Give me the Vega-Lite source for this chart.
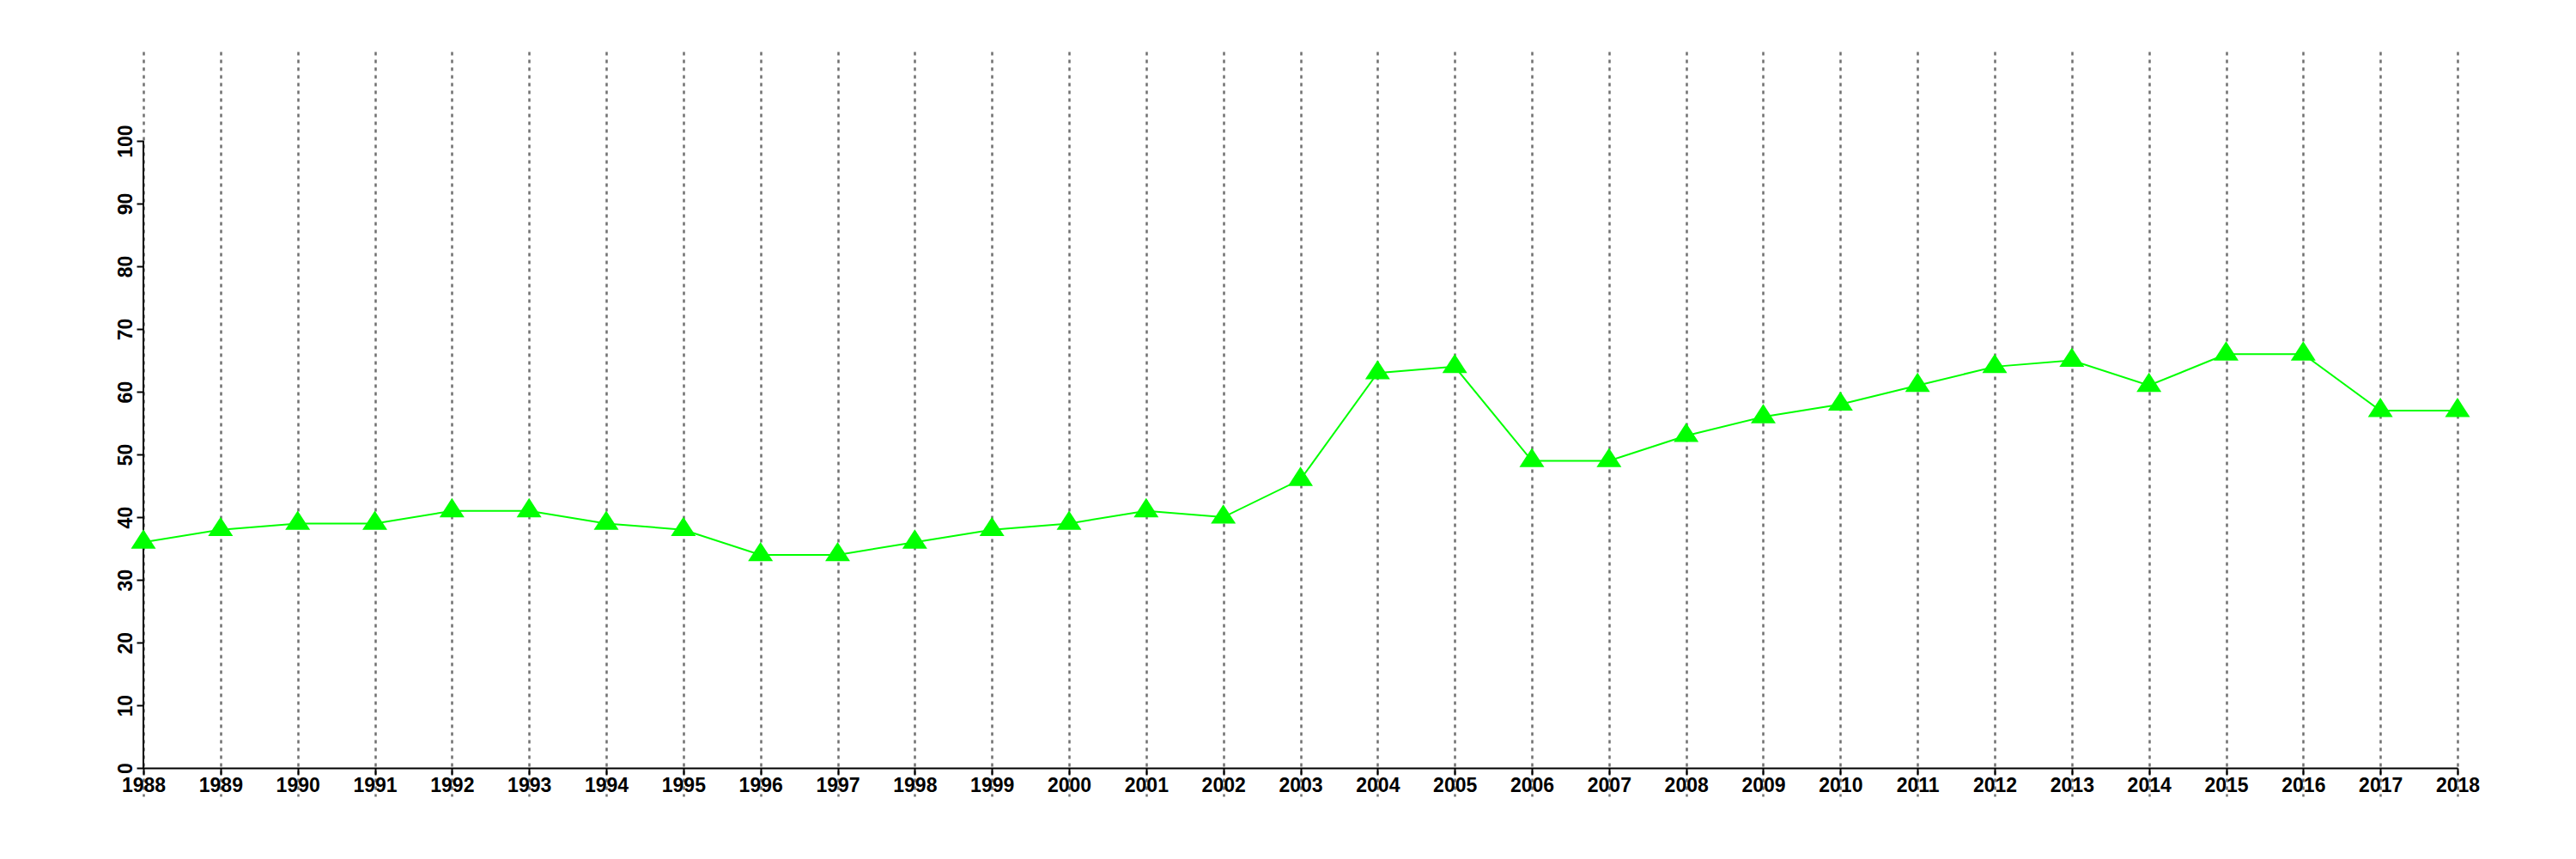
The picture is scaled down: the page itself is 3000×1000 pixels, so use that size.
{
  "$schema": "https://vega.github.io/schema/vega-lite/v6.json",
  "autosize": {"type": "none"},
  "width": 2695,
  "height": 867,
  "padding": {"left": 167, "top": 60, "right": 138, "bottom": 73},
  "background": "white",
  "config": {"view": {"stroke": null}, "font": "Liberation Sans"},
  "data": {"values": [
    {"year": 1988, "value": 36}, {"year": 1989, "value": 38}, {"year": 1990, "value": 39},
    {"year": 1991, "value": 39}, {"year": 1992, "value": 41}, {"year": 1993, "value": 41},
    {"year": 1994, "value": 39}, {"year": 1995, "value": 38}, {"year": 1996, "value": 34},
    {"year": 1997, "value": 34}, {"year": 1998, "value": 36}, {"year": 1999, "value": 38},
    {"year": 2000, "value": 39}, {"year": 2001, "value": 41}, {"year": 2002, "value": 40},
    {"year": 2003, "value": 46}, {"year": 2004, "value": 63}, {"year": 2005, "value": 64},
    {"year": 2006, "value": 49}, {"year": 2007, "value": 49}, {"year": 2008, "value": 53},
    {"year": 2009, "value": 56}, {"year": 2010, "value": 58}, {"year": 2011, "value": 61},
    {"year": 2012, "value": 64}, {"year": 2013, "value": 65}, {"year": 2014, "value": 61},
    {"year": 2015, "value": 66}, {"year": 2016, "value": 66}, {"year": 2017, "value": 57},
    {"year": 2018, "value": 57}
  ]},
  "layer": [
    {
      "mark": {"type": "rule", "stroke": "black", "strokeWidth": 2},
      "encoding": {
        "x": {"datum": 1988, "type": "quantitative", "scale": {"domain": [1988, 2018], "nice": false, "zero": false}},
        "y": {"datum": 0, "type": "quantitative"},
        "y2": {"datum": 100}
      }
    },
    {
      "mark": {"type": "line", "color": "#00ff00", "strokeWidth": 2},
      "encoding": {
        "x": {
          "field": "year", "type": "quantitative",
          "scale": {"domain": [1988, 2018], "nice": false, "zero": false},
          "axis": {
            "title": null,
            "values": [1988,1989,1990,1991,1992,1993,1994,1995,1996,1997,1998,1999,2000,2001,2002,2003,2004,2005,2006,2007,2008,2009,2010,2011,2012,2013,2014,2015,2016,2017,2018],
            "format": "d",
            "offset": -33,
            "grid": true,
            "gridColor": "#707070",
            "gridDash": [4, 5],
            "gridWidth": 2.5,
            "gridOpacity": 1,
            "domainColor": "black",
            "domainWidth": 2,
            "tickColor": "black",
            "tickWidth": 2,
            "tickSize": 8,
            "labelFont": "Liberation Sans",
            "labelFontWeight": "bold",
            "labelFontSize": 23,
            "labelColor": "black",
            "labelPadding": 1,
            "labelBaseline": "top",
            "labelFlush": false,
            "labelOverlap": false
          }
        },
        "y": {
          "field": "value", "type": "quantitative",
          "scale": {"domain": [-4.5, 114.25], "nice": false, "zero": false},
          "axis": {
            "title": null,
            "values": [0,10,20,30,40,50,60,70,80,90,100],
            "grid": false,
            "domain": false,
            "tickColor": "black",
            "tickWidth": 2,
            "tickSize": 8,
            "labelAngle": 270,
            "labelAlign": "center",
            "labelBaseline": "alphabetic",
            "labelPadding": 6,
            "labelFont": "Liberation Sans",
            "labelFontWeight": "bold",
            "labelFontSize": 23,
            "labelColor": "black",
            "labelOverlap": false
          }
        }
      }
    },
    {
      "mark": {"type": "point", "shape": "M0,-1.03L1,0.51L-1,0.51Z", "filled": true, "color": "#00ff00", "opacity": 1, "size": 841, "strokeWidth": 0},
      "encoding": {
        "x": {"field": "year", "type": "quantitative"},
        "y": {"field": "value", "type": "quantitative"}
      }
    }
  ]
}
